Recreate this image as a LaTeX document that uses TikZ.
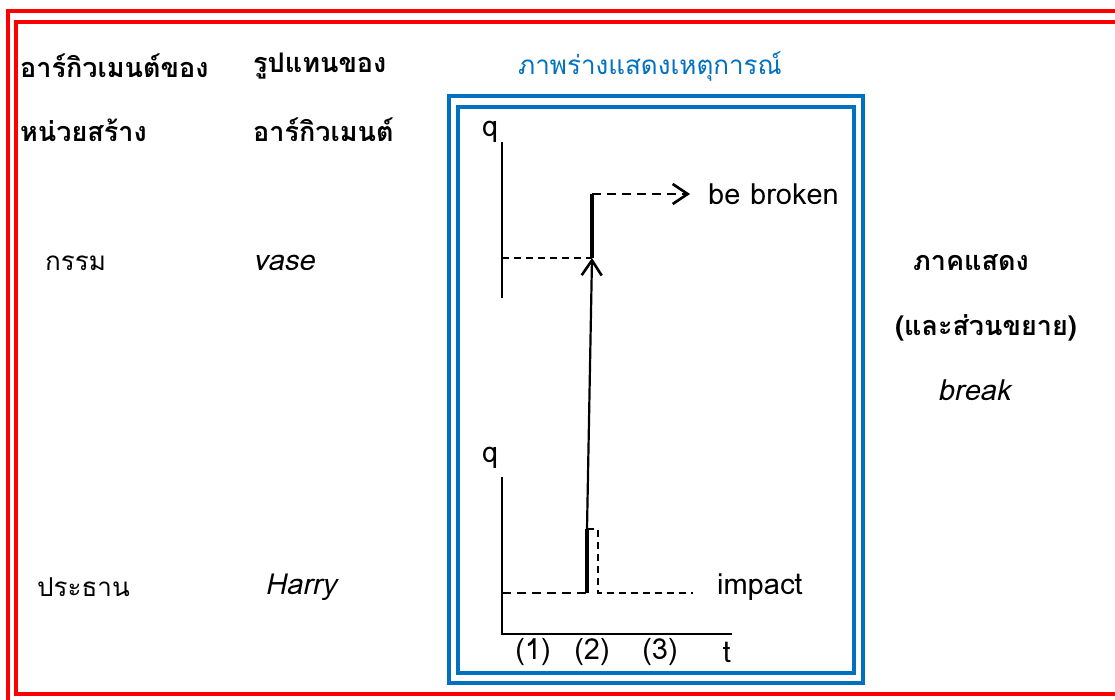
\documentclass[tikz,border=0pt]{standalone}
\usepackage{fontspec}
\usetikzlibrary{arrows.meta}
\setmainfont{Loma}
\newfontfamily\thai[Script=Thai]{Loma}
\definecolor{frameblue}{RGB}{0,112,192}
\begin{document}
\begin{tikzpicture}[x=1pt,y=-1pt,
  redframe/.style={draw=red,line width=3.2pt},
  blueframe/.style={draw=frameblue,line width=3.2pt},
  axis/.style={line width=2.2pt},
  thickln/.style={line width=3.2pt},
  dashln/.style={line width=1.8pt,dash pattern=on 7pt off 5pt},
  thdashln/.style={line width=2.6pt,dash pattern=on 9pt off 6pt},
  thaihead/.style={font=\thai\bfseries\fontsize{27}{31}\selectfont,anchor=west,inner sep=0pt},
  thaitxt/.style={font=\thai\fontsize{26}{30}\selectfont,anchor=west,inner sep=0pt},
  engit/.style={font=\itshape\fontsize{29}{33}\selectfont,anchor=west,inner sep=0pt},
  lbl/.style={font=\fontsize{29}{33}\selectfont,inner sep=0pt},
  opentip/.style={-{Straight Barb[length=15pt,width=20pt,line width=2.6pt]}}
]
\useasboundingbox (0,0) rectangle (1115,700);
% red double frame
\draw[redframe] (8,11) rectangle (1140,720);
\draw[redframe] (16,22) rectangle (1128,694);
% blue double frame
\draw[blueframe] (449,96) rectangle (863,683);
\draw[blueframe] (458,107) rectangle (854,673);
% texts left
\node[thaihead] (h1a) at (20,66) {อาร์กิวเมนต์ของ};
\node[thaihead] (h1b) at (20,130) {หน่วยสร้าง};
\node[thaihead] (h2a) at (253,66) {รูปแทนของ};
\node[thaihead] (h2b) at (253,130) {อาร์กิวเมนต์};
\node[thaitxt] (obj) at (45,263) {กรรม};
\node[engit] (vase) at (253,263) {vase};
\node[thaitxt] (subj) at (37,587) {ประธาน};
\node[engit] (harry) at (265,587) {Harry};
% title
\node[font=\thai\fontsize{26}{30}\selectfont,text=frameblue,inner sep=0pt] (title) at (650,66) {ภาพร่างแสดงเหตุการณ์};
% right texts
\node[thaihead,anchor=center] (pred) at (971,263) {ภาคแสดง};
\node[thaihead,anchor=center] (predx) at (986,328) {(และส่วนขยาย)};
\node[engit,anchor=center] (brk) at (974,390) {break};
% upper graph
\node[lbl] (q1) at (490,132) {q};
\coordinate (a1top) at (502,142);
\coordinate (a1bot) at (502,298);
\coordinate (d1) at (502,258);
\coordinate (p1) at (592,258);
\coordinate (p2) at (592,194);
\coordinate (ar) at (690,194);
\draw[axis] (a1top) -- (a1bot);
\draw[dashln] (d1) -- (p1);
\draw[thickln] (p1) -- (p2);
\draw[thdashln,opentip] (p2) -- (ar);
\node[lbl,anchor=west] (broken) at (708,194) {be broken};
% lower graph
\node[lbl] (q2) at (490,458) {q};
\coordinate (a2top) at (502,477);
\coordinate (orig) at (502,634);
\coordinate (tend) at (732,634);
\coordinate (b0) at (502,593);
\coordinate (b1) at (587,593);
\coordinate (b2) at (587,529);
\coordinate (b3) at (598,529);
\coordinate (b4) at (598,593);
\coordinate (b5) at (693,593);
\draw[axis] (a2top) -- (orig) -- (tend);
\draw[thdashln] (b0) -- (b1);
\draw[thickln] (b1) -- (b2);
\draw[line width=2.2pt,opentip] (b2) -- (p1);
\draw[dashln] (b2) -- (b3) -- (b4) -- (b5);
\node[lbl,anchor=west] (impact) at (717,587) {impact};
\node[lbl] (t1) at (533,652) {(1)};
\node[lbl] (t2) at (592,652) {(2)};
\node[lbl] (t3) at (660,652) {(3)};
\node[lbl] (tt) at (727,652) {t};
\end{tikzpicture}
\end{document}
